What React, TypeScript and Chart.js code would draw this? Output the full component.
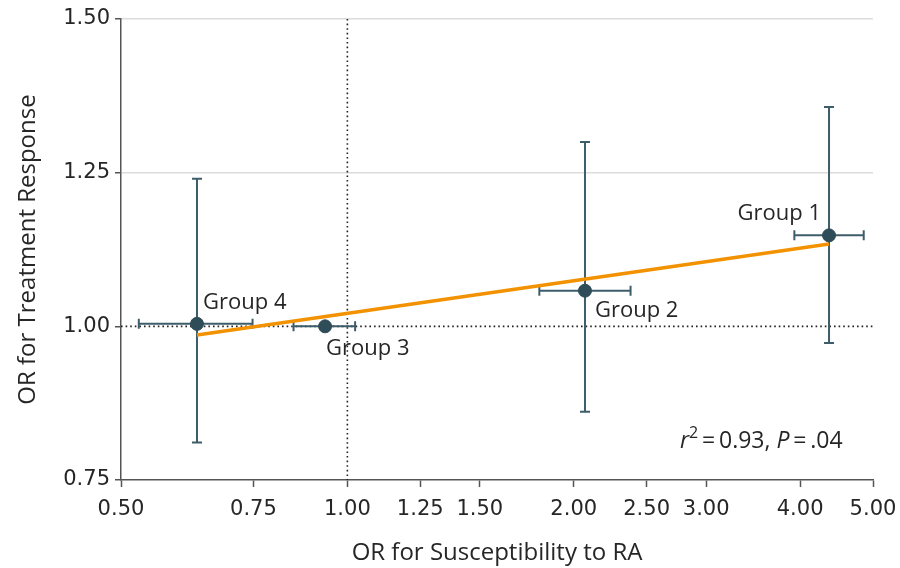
import React, { useEffect, useRef } from "react";
import { Chart, registerables } from "chart.js";

Chart.register(...registerables);

const groups = ["Group 1", "Group 2", "Group 3", "Group 4"];
const orSusceptibility = [4.37, 2.07, 0.934, 0.631];
const susLower = [3.93, 1.8, 0.848, 0.528];
const susUpper = [4.86, 2.38, 1.024, 0.748];
const orResponse = [1.148, 1.058, 1.0, 1.004];
const respLower: (number | null)[] = [0.973, 0.861, null, 0.811];
const respUpper: (number | null)[] = [1.357, 1.3, null, 1.24];
const fitX = [0.631, 4.37];
const fitY = [0.986, 1.134];
const xTicks = [0.5, 0.75, 1.0, 1.25, 1.5, 2.0, 2.5, 3.0, 4.0, 5.0];
const yTicks = [0.75, 1.0, 1.25, 1.5];
const gridValues = [1.25, 1.5];
const refX = 1.0;
const refY = 1.0;
const xTitle = "OR for Susceptibility to RA";
const yTitle = "OR for Treatment Response";

const FONT = "'Open Sans', 'Noto Sans', sans-serif";
const TICKFONT = "'DejaVu Sans', sans-serif";
const FS = 22;
const TITLE_FS = 24;
const TICK_FS = 21;
const TEXT = "#262626";
const AXIS = "#555";
const MARK = "#2f4c59";
const BAR = "#3e5d6a";
const ORANGE = "#f39200";

// label offsets in px relative to the point: [dx, dy, align]
const labelPlace: [number, number, CanvasTextAlign][] = [
  [-8, -22, "right"],
  [10, 20, "left"],
  [1, 22, "left"],
  [6, -21, "left"],
];

const overlay = {
  id: "overlay",
  beforeDatasetsDraw(chart: any) {
    const { ctx, chartArea, scales } = chart;
    const xs = scales.x;
    const ys = scales.y;
    ctx.save();
    ctx.strokeStyle = "#222";
    ctx.lineWidth = 1.6;
    ctx.setLineDash([1.6, 3]);
    const px = xs.getPixelForValue(refX);
    ctx.beginPath();
    ctx.moveTo(px, chartArea.top);
    ctx.lineTo(px, chartArea.bottom);
    ctx.stroke();
    const py = ys.getPixelForValue(refY);
    ctx.beginPath();
    ctx.moveTo(chartArea.left, py);
    ctx.lineTo(chartArea.right, py);
    ctx.stroke();
    ctx.setLineDash([]);
    ctx.strokeStyle = BAR;
    ctx.lineWidth = 2;
    const cap = 5;
    for (let i = 0; i < groups.length; i++) {
      const cx = xs.getPixelForValue(orSusceptibility[i]);
      const cy = ys.getPixelForValue(orResponse[i]);
      const xl = xs.getPixelForValue(susLower[i]);
      const xu = xs.getPixelForValue(susUpper[i]);
      ctx.beginPath();
      ctx.moveTo(xl, cy);
      ctx.lineTo(xu, cy);
      ctx.moveTo(xl, cy - cap);
      ctx.lineTo(xl, cy + cap);
      ctx.moveTo(xu, cy - cap);
      ctx.lineTo(xu, cy + cap);
      ctx.stroke();
      const lo = respLower[i];
      const hi = respUpper[i];
      if (lo != null && hi != null) {
        const yl = ys.getPixelForValue(lo);
        const yu = ys.getPixelForValue(hi);
        ctx.beginPath();
        ctx.moveTo(cx, yl);
        ctx.lineTo(cx, yu);
        ctx.moveTo(cx - cap, yl);
        ctx.lineTo(cx + cap, yl);
        ctx.moveTo(cx - cap, yu);
        ctx.lineTo(cx + cap, yu);
        ctx.stroke();
      }
    }
    ctx.restore();
  },
  afterDatasetsDraw(chart: any) {
    const { ctx, scales } = chart;
    const xs = scales.x;
    const ys = scales.y;
    ctx.save();
    ctx.fillStyle = TEXT;
    ctx.font = `${FS}px ${FONT}`;
    ctx.textBaseline = "middle";
    for (let i = 0; i < groups.length; i++) {
      const cx = xs.getPixelForValue(orSusceptibility[i]);
      const cy = ys.getPixelForValue(orResponse[i]);
      const [dx, dy, al] = labelPlace[i];
      ctx.textAlign = al;
      ctx.fillText(groups[i], cx + dx, cy + dy);
    }
    ctx.textAlign = "left";
    ctx.textBaseline = "alphabetic";
    let x = 680;
    const base = 448;
    const AF = 23;
    const parts: [string, string, number][] = [
      ["r", `italic ${AF}px ${FONT}`, 0],
      ["2", `${Math.round(AF * 0.68)}px ${FONT}`, -10],
      ["\u2009=\u20090.93, ", `${AF}px ${FONT}`, 0],
      ["P", `italic ${AF}px ${FONT}`, 0],
      ["\u2009=\u2009.04", `${AF}px ${FONT}`, 0],
    ];
    for (const [t, f, off] of parts) {
      ctx.font = f;
      ctx.fillText(t, x, base + off);
      x += ctx.measureText(t).width;
    }
    ctx.restore();
  },
};

export default function App() {
  const ref = useRef<HTMLCanvasElement>(null);
  useEffect(() => {
    if (!ref.current) return;
    const chart = new Chart(ref.current, {
      type: "scatter",
      data: {
        datasets: [
          {
            type: "scatter",
            data: orSusceptibility.map((v, i) => ({ x: v, y: orResponse[i] })),
            backgroundColor: MARK,
            borderColor: MARK,
            pointRadius: 6.5,
            order: 0,
          },
          {
            type: "line",
            data: fitX.map((v, i) => ({ x: v, y: fitY[i] })),
            borderColor: ORANGE,
            borderWidth: 3.5,
            pointRadius: 0,
            fill: false,
            order: 1,
          } as any,
        ],
      },
      options: {
        responsive: false,
        animation: false,
        events: [],
        layout: { padding: { top: 19, right: 27, left: 0, bottom: 0 } },
        plugins: {
          legend: { display: false },
          tooltip: { enabled: false },
        },
        scales: {
          x: {
            type: "logarithmic",
            min: 0.5,
            max: 5,
            afterBuildTicks: (s: any) => {
              s.ticks = xTicks.map((v) => ({ value: v }));
            },
            afterFit: (s: any) => {
              s.height = 88;
              s.paddingLeft = 0;
              s.paddingRight = 0;
            },
            ticks: {
              autoSkip: false,
              maxRotation: 0,
              minRotation: 0,
              color: TEXT,
              font: { family: TICKFONT, size: TICK_FS },
              padding: 10,
              callback: (v: any) => Number(v).toFixed(2),
            },
            grid: {
              drawOnChartArea: false,
              drawTicks: true,
              tickLength: 7,
              tickColor: AXIS,
              tickWidth: 1.5,
            },
            border: { display: true, color: AXIS, width: 1.5 },
            title: {
              display: true,
              text: xTitle,
              color: TEXT,
              font: { family: FONT, size: TITLE_FS },
              padding: { top: 12, bottom: 0 },
            },
          },
          y: {
            type: "linear",
            min: 0.75,
            max: 1.5,
            afterBuildTicks: (s: any) => {
              s.ticks = yTicks.map((v) => ({ value: v }));
            },
            afterFit: (s: any) => {
              s.width = 121;
              s.paddingTop = 0;
              s.paddingBottom = 0;
            },
            ticks: {
              color: TEXT,
              font: { family: TICKFONT, size: TICK_FS },
              padding: 5,
              callback: (v: any) => Number(v).toFixed(2),
            },
            grid: {
              color: (c: any) =>
                c.tick && gridValues.includes(c.tick.value) ? "#dcdcdc" : "rgba(0,0,0,0)",
              lineWidth: 1.5,
              tickLength: 6,
              tickColor: AXIS,
              tickWidth: 1.5,
            },
            border: { display: true, color: AXIS, width: 1.5 },
            title: {
              display: true,
              text: yTitle,
              color: TEXT,
              font: { family: FONT, size: TITLE_FS },
              padding: { top: 14, bottom: 0 },
            },
          },
        },
      },
      plugins: [overlay],
    });
    return () => chart.destroy();
  }, []);
  return (
    <div style={{ position: "absolute", left: 0, top: 0, width: 900, height: 568, background: "#fff" }}>
      <canvas ref={ref} width={900} height={568} style={{ display: "block" }} />
    </div>
  );
}
